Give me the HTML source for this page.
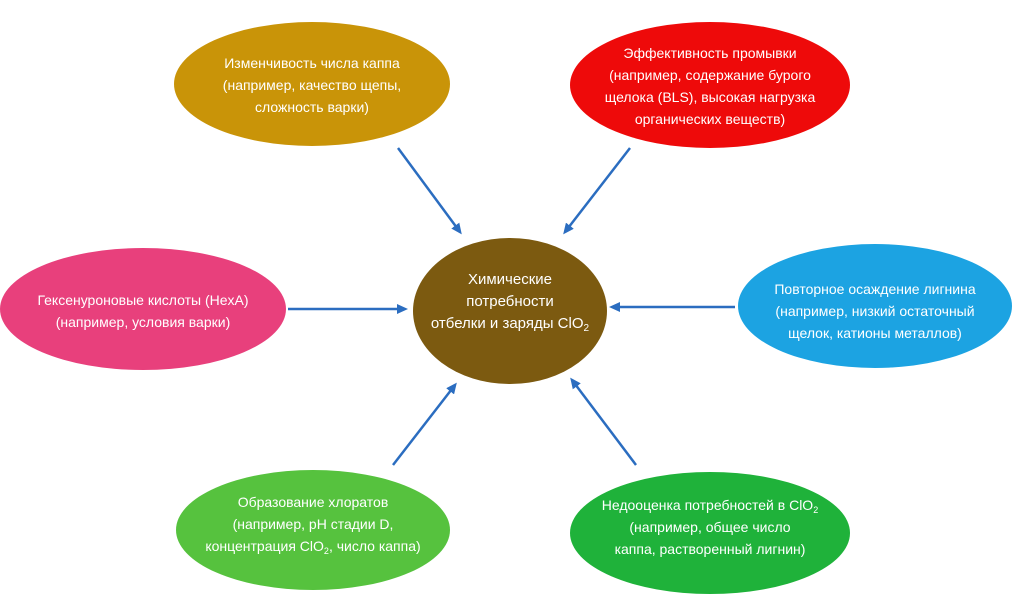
<!DOCTYPE html>
<html><head><meta charset="utf-8"><style>
html,body{margin:0;padding:0;background:#fff;}
svg text{font-family:"Liberation Sans","DejaVu Sans",sans-serif;fill:#fff;font-size:14px;text-anchor:middle;}
</style></head><body>
<svg width="1024" height="597" viewBox="0 0 1024 597" xmlns="http://www.w3.org/2000/svg">
<defs><marker id="a" markerWidth="11" markerHeight="10" refX="8" refY="5" orient="auto" markerUnits="userSpaceOnUse"><path d="M0,0 L11,5 L0,10 z" fill="#2b6dc0"/></marker></defs>
<ellipse cx="312" cy="84" rx="138" ry="62" fill="#c99408"/>
<ellipse cx="710" cy="85" rx="140" ry="63" fill="#ee0a0a"/>
<ellipse cx="143" cy="309" rx="143" ry="61" fill="#e8407c"/>
<ellipse cx="510" cy="311" rx="97" ry="73" fill="#7c5a10"/>
<ellipse cx="875" cy="306" rx="137" ry="62" fill="#1ca3e2"/>
<ellipse cx="313" cy="530" rx="137" ry="60" fill="#56c23e"/>
<ellipse cx="710" cy="533" rx="140" ry="61" fill="#1fb23a"/>
<g stroke="#2b6dc0" stroke-width="2.5" fill="none" marker-end="url(#a)">
<line x1="398" y1="148" x2="460" y2="232"/>
<line x1="630" y1="148" x2="565" y2="232"/>
<line x1="288" y1="309" x2="405" y2="309"/>
<line x1="735" y1="307" x2="612" y2="307"/>
<line x1="393" y1="465" x2="455" y2="385"/>
<line x1="636" y1="465" x2="572" y2="380"/>
</g>
<text x="312" y="68">Изменчивость числа каппа</text>
<text x="312" y="90">(например, качество щепы,</text>
<text x="312" y="112">сложность варки)</text>
<text x="710" y="58">Эффективность промывки</text>
<text x="710" y="80">(например, содержание бурого</text>
<text x="710" y="102">щелока (BLS), высокая нагрузка</text>
<text x="710" y="124">органических веществ)</text>
<text x="143" y="305">Гексенуроновые кислоты (HexA)</text>
<text x="143" y="327">(например, условия варки)</text>
<text x="510" y="284" style="font-size:15px">Химические</text>
<text x="510" y="306" style="font-size:15px">потребности</text>
<text x="510" y="328" style="font-size:15px">отбелки и заряды ClO<tspan font-size="10" dy="3">2</tspan></text>
<text x="875" y="294">Повторное осаждение лигнина</text>
<text x="875" y="316">(например, низкий остаточный</text>
<text x="875" y="338">щелок, катионы металлов)</text>
<text x="313" y="507">Образование хлоратов</text>
<text x="313" y="529">(например, pH стадии D,</text>
<text x="313" y="551">концентрация ClO<tspan font-size="9" dy="3">2</tspan><tspan dy="-3">, число каппа)</tspan></text>
<text x="710" y="510">Недооценка потребностей в ClO<tspan font-size="9" dy="3">2</tspan></text>
<text x="710" y="532">(например, общее число</text>
<text x="710" y="554">каппа, растворенный лигнин)</text>
</svg>
</body></html>
